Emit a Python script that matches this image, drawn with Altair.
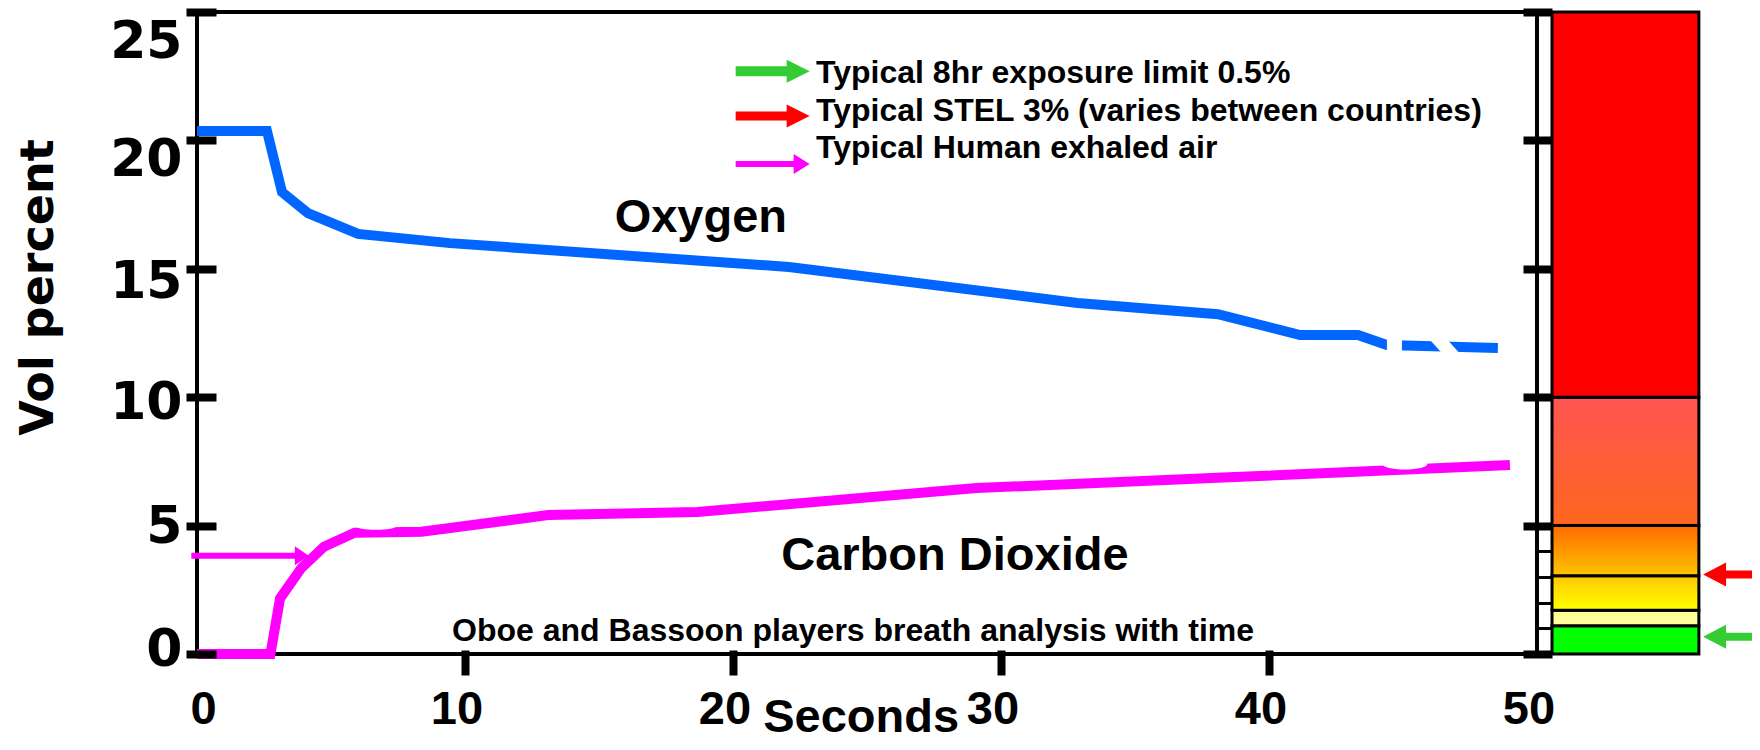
import altair as alt
import pandas as pd

# ---------------- values ----------------
o2_seconds = [0, 2.61, 3.17, 4.14, 6.01, 9.44, 22.09, 32.85, 38.09, 41.16, 43.32, 44.40, 48.54]
o2_percent = [20.37, 20.37, 17.99, 17.17, 16.36, 16.00, 15.07, 13.67, 13.23, 12.42, 12.42, 12.03, 11.92]

co2_seconds = [0, 2.74, 3.10, 3.89, 4.74, 5.88, 8.38, 13.10, 18.67, 29.09, 38.72, 48.99]
co2_percent = [0, 0, 2.17, 3.34, 4.18, 4.72, 4.76, 5.41, 5.53, 6.46, 6.89, 7.36]

gas_names = ["Oxygen", "Carbon Dioxide"]
gas_colors = ["#0066FF", "#FF00FF"]

x_tick_values = [10, 20, 30, 40]          # ticks drawn on the time axis
x_end_values = [0, 50]                     # labelled ends without a tick
y_tick_values = [0, 5, 10, 15, 20, 25]
scale_bar_ticks = [0, 1, 2, 3, 4, 5, 10, 15, 20, 25]

band_low = [0, 1.1, 1.7, 3.05, 5, 10]
band_high = [1.1, 1.7, 3.05, 5, 10, 25]
band_top_colors = ["#00FF00", "#FFFF99", "#FFC800", "#FF6A00", "#FF5552", "#FF0000"]
band_bottom_colors = ["#00FF00", "#FFFF99", "#FFFF00", "#FFC400", "#FF661E", "#FF0000"]

limit_labels = ["Typical 8hr exposure limit 0.5%",
                "Typical STEL 3% (varies between countries)",
                "Typical Human exhaled air"]
limit_colors = ["#33CC33", "#FF0000", "#FF00FF"]
exposure_level = 0.67
stel_level = 3.1
exhaled_level = 3.83

caption = "Oboe and Bassoon players breath analysis with time"
x_title = "Seconds"
y_title = "Vol percent"

FONT = "Liberation Sans, Arial, sans-serif"
WIDE_FONT = "DejaVu Sans, Verdana, sans-serif"

# ---------------- scales ----------------
xs = alt.Scale(domain=[0, 50], nice=False, zero=False)
ys = alt.Scale(domain=[0, 25], nice=False, zero=False)


def X(field, axis=None):
    return alt.X(field, type="quantitative", scale=xs, axis=axis)


def Y(field, axis=None):
    return alt.Y(field, type="quantitative", scale=ys, axis=axis)


x_label_style = dict(
    labelFont=FONT, labelFontWeight="bold", labelFontSize=47, labelColor="black",
    labelBaseline="alphabetic", labelAngle=0, labelFlush=False, labelOverlap=False,
)

x_axis = alt.Axis(
    values=x_tick_values, orient="bottom", title=None, domain=False, grid=False, offset=-4,
    tickSize=25, tickWidth=8, tickColor="black",
    labelPadding=48, labelOffset=-8.5, zindex=1, **x_label_style,
)

x_end_axis = alt.Axis(
    values=x_end_values, orient="bottom", title=None, domain=False, grid=False, offset=-4,
    ticks=False, labelPadding=73,
    labelOffset={"condition": {"test": "datum.value == 0", "value": 6}, "value": -8.5},
    zindex=1, **x_label_style,
)

y_axis = alt.Axis(
    values=y_tick_values, orient="left", title=y_title, domain=False, grid=False, offset=-19,
    tickSize=30, tickWidth=8, tickColor="black",
    labelFont=WIDE_FONT, labelFontWeight="bold", labelFontSize=52, labelColor="black",
    labelPadding=4, labelAlign="right", labelBaseline="middle",
    labelOffset={"condition": [
        {"test": "datum.value == 25", "value": 29},
        {"test": "datum.value == 20", "value": 19},
        {"test": "datum.value == 15", "value": 13},
        {"test": "datum.value == 10", "value": 5},
        {"test": "datum.value == 5", "value": 1},
        {"test": "datum.value == 0", "value": -5},
    ], "value": 0},
    labelFlush=False, labelOverlap=False,
    titleFont=WIDE_FONT, titleFontWeight="bold", titleFontSize=46, titleColor="black",
    titleAngle=270, titleX=-164, titleY=275, titleAlign="center", titleBaseline="alphabetic",
    zindex=1,
)

ladder_axis = alt.Axis(
    values=scale_bar_ticks, orient="left", title=None, domain=False, grid=False,
    labels=False, offset=-1355, tickColor="black",
    tickSize={"condition": {"test": "datum.value % 5 == 0", "value": 29}, "value": 15},
    tickWidth={"condition": {"test": "datum.value % 5 == 0", "value": 8}, "value": 3},
    zindex=1,
)

# ---------------- gas lines ----------------
lines_df = pd.concat([
    pd.DataFrame({"t": o2_seconds, "v": o2_percent, "gas": gas_names[0]}),
    pd.DataFrame({"t": co2_seconds, "v": co2_percent, "gas": gas_names[1]}),
])
lines = alt.Chart(lines_df).mark_line(strokeWidth=10, strokeJoin="miter").encode(
    x=X("t", x_axis),
    y=Y("v", y_axis),
    color=alt.Color("gas:N", scale=alt.Scale(domain=gas_names, range=gas_colors), legend=None),
    detail="gas:N",
)

# white artwork pieces that cut the lines in the original picture
cut_v_df = pd.DataFrame({"t": [44.68], "v1": [13.78], "v2": [7.55]})
cut_vertical = alt.Chart(cut_v_df).mark_rule(color="white", strokeWidth=15).encode(
    x=X("t"), y=Y("v1"), y2="v2")
cut_d_df = pd.DataFrame({"t1": [45.0], "v1": [13.78], "t2": [47.24], "v2": [11.18]})
cut_diag = alt.Chart(cut_d_df).mark_rule(color="white", strokeWidth=13).encode(
    x=X("t1"), y=Y("v1"), x2="t2", y2="v2")


def ellipse_path(ratio):
    return f"M-1,0 A1,{ratio:.3f} 0 1,0 1,0 A1,{ratio:.3f} 0 1,0 -1,0 Z"


blob_df = pd.DataFrame({"t": [45.07], "v": [7.40]})
blob1 = alt.Chart(blob_df).mark_point(shape=ellipse_path(11 / 45), size=45 * 45, filled=True,
                                       color="white", opacity=1, strokeWidth=0).encode(x=X("t"), y=Y("v"))
blob_df2 = pd.DataFrame({"t": [6.68], "v": [4.97]})
blob2 = alt.Chart(blob_df2).mark_point(shape=ellipse_path(7 / 40), size=40 * 40, filled=True,
                                        color="white", opacity=1, strokeWidth=0).encode(x=X("t"), y=Y("v"))

# ---------------- colour scale bar ----------------
bands = []
for i in range(len(band_low)):
    bdf = pd.DataFrame({"x1": [50.56], "x2": [56.04], "lo": [band_low[i]], "hi": [band_high[i]]})
    if band_top_colors[i] == band_bottom_colors[i]:
        fill = band_top_colors[i]
    else:
        fill = alt.Gradient(
            gradient="linear",
            stops=[alt.GradientStop(color=band_top_colors[i], offset=0),
                   alt.GradientStop(color=band_bottom_colors[i], offset=1)],
            x1=0, x2=0, y1=0, y2=1)
    bands.append(
        alt.Chart(bdf).mark_rect(fill=fill, stroke="black", strokeWidth=3).encode(
            x=X("x1"), x2="x2", y=Y("hi", ladder_axis if i == 0 else None), y2="lo"))


# ---------------- arrows ----------------
def arrow_path(length, shaft, head_len, head_h, direction=1):
    k = 2.0 / length
    s = shaft / 2 * k
    hb = 1 - head_len * k
    hh = head_h / 2 * k
    pts = [(-1, -s), (hb, -s), (hb, -hh), (1, 0), (hb, hh), (hb, s), (-1, s)]
    pts = [(direction * px, py) for px, py in pts]
    return "M" + " L".join(f"{px:.4f},{py:.4f}" for px, py in pts) + " Z"


def arrow(t, v, color, length, shaft, head_len, head_h, direction=1):
    adf = pd.DataFrame({"t": [t], "v": [v]})
    return alt.Chart(adf).mark_point(
        shape=arrow_path(length, shaft, head_len, head_h, direction), size=length * length,
        filled=True, color=color, opacity=1, strokeWidth=0,
    ).encode(x=X("t"), y=Y("v"))


legend_arrow_v = [22.69, 20.95, 19.08]
legend_text_v = [22.22, 20.77, 19.30]
arrows = [
    arrow(21.48, legend_arrow_v[0], limit_colors[0], 74, 10, 23, 23),
    arrow(21.48, legend_arrow_v[1], limit_colors[1], 74, 9, 23, 23),
    arrow(21.48, legend_arrow_v[2], limit_colors[2], 74, 6, 16, 20),
    arrow(1.98, exhaled_level, limit_colors[2], 117.5, 6, 14, 19),
    arrow(57.69, stel_level, limit_colors[1], 80, 8, 23, 24, direction=-1),
    arrow(57.69, exposure_level, limit_colors[0], 80, 8, 23, 24, direction=-1),
]


# ---------------- texts ----------------
def text(t, v, label, size, align="center", axis=None):
    tdf = pd.DataFrame({"t": [t], "v": [v], "label": [label]})
    return alt.Chart(tdf).mark_text(
        align=align, baseline="alphabetic", font=FONT, fontSize=size, fontWeight="bold", color="black"
    ).encode(x=X("t", axis), y=Y("v"), text="label:N")


texts = [
    text(23.10, legend_text_v[0], limit_labels[0], 32, "left"),
    text(23.10, legend_text_v[1], limit_labels[1], 32, "left"),
    text(23.10, legend_text_v[2], limit_labels[2], 32, "left"),
    text(18.8, 16.43, gas_names[0], 47),
    text(28.28, 3.27, gas_names[1], 47),
    text(24.48, 0.50, caption, 32, axis=x_end_axis),
    text(24.78, -3.04, x_title, 47),
]

chart = alt.layer(
    lines, cut_vertical, cut_diag, blob1, blob2, *bands, *arrows, *texts
).resolve_axis(x="independent", y="independent").properties(
    width=1340, height=642,
    autosize=alt.AutoSizeParams(type="none"),
    padding={"left": 189, "top": 4, "right": 215, "bottom": 88},
).configure(background="white").configure_view(stroke="black", strokeWidth=4)

chart.save("out.html", embed_options={"renderer": "svg", "actions": False})
